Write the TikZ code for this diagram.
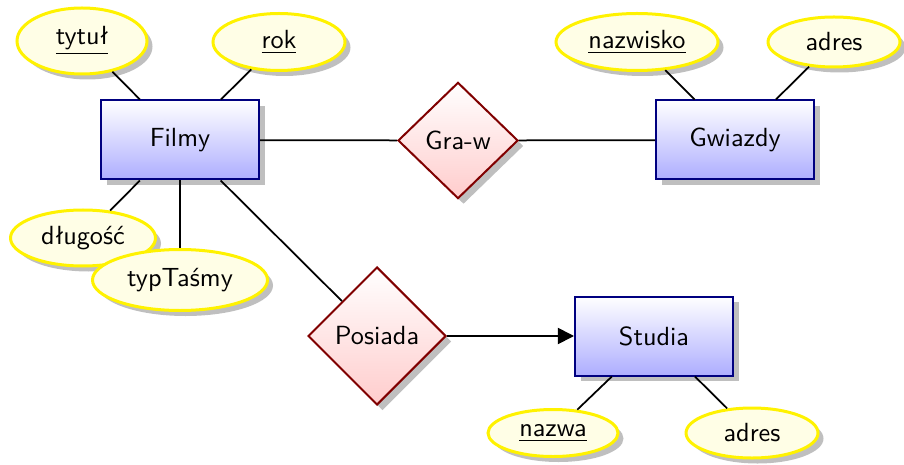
\documentclass[tikz,border=0pt]{standalone}
\usepackage{fontspec}
\usetikzlibrary{shapes.geometric,shadows,arrows.meta}
\tikzset{
  ent/.style={rectangle, draw=blue!50!black, line width=0.8pt, top color=white, bottom color=blue!32,
    minimum width=63.2pt, minimum height=31.6pt, inner sep=0pt,
    drop shadow={shadow xshift=2.2pt, shadow yshift=-2.2pt}},
  rel/.style={diamond, draw=red!50!black, line width=0.8pt, top color=white, bottom color=red!20,
    inner sep=0pt, drop shadow={shadow xshift=2.2pt, shadow yshift=-2.2pt}},
  attr/.style={ellipse, draw=yellow, line width=1.2pt, fill=yellow!10, inner sep=0pt,
    drop shadow={shadow xshift=2.2pt, shadow yshift=-2.2pt}},
  conn/.style={line width=0.7pt, black},
}
\begin{document}
\begin{tikzpicture}[x=0.4pt,y=-0.4pt, font=\sffamily\fontsize{10.5}{12.6}\selectfont]
\useasboundingbox (0,0) rectangle (904,465);
% entities
\node[ent] (filmy) at (180,140) {Filmy};
\node[ent] (gwiazdy) at (735,140) {Gwiazdy};
\node[ent] (studia) at (654,336) {Studia};
% relations
\node[rel, minimum width=48pt, minimum height=46.5pt] (graw) at (458,140.5) {Gra-w};
\node[rel, minimum width=55.2pt, minimum height=55.2pt] (posiada) at (377,336) {Posiada};
% attributes
\node[attr, minimum width=52pt, minimum height=26.4pt] (tytul) at (82,41) {\underline{tytuł}};
\node[attr, minimum width=52.8pt, minimum height=22.8pt] (rok) at (279,42) {\underline{rok}};
\node[attr, minimum width=64.8pt, minimum height=22.8pt] (nazwisko) at (637,42) {\underline{nazwisko}};
\node[attr, minimum width=52.8pt, minimum height=20pt] (adres1) at (834,42) {adres};
\node[attr, minimum width=58pt, minimum height=22.4pt] (dlugosc) at (83,238) {długość};
\node[attr, minimum width=70pt, minimum height=24.4pt] (typ) at (180,280) {typTaśmy};
\node[attr, minimum width=52pt, minimum height=18.8pt] (nazwa) at (553,433) {\underline{nazwa}};
\node[attr, minimum width=52.8pt, minimum height=20pt] (adres2) at (752,433) {adres};
% connectors
\draw[conn] (tytul) -- (filmy);
\draw[conn] (rok) -- (filmy);
\draw[conn] (filmy) -- (dlugosc);
\draw[conn] (filmy) -- (typ);
\draw[conn] (filmy) -- (posiada);
\draw[conn] (filmy) -- (graw);
\draw[conn] (graw) -- (gwiazdy);
\draw[conn] (nazwisko) -- (gwiazdy);
\draw[conn] (adres1) -- (gwiazdy);
\draw[conn] (studia) -- (nazwa);
\draw[conn] (studia) -- (adres2);
\draw[conn, -{Triangle[length=6.5pt,width=6.5pt]}] (posiada) -- (studia);
\end{tikzpicture}
\end{document}
